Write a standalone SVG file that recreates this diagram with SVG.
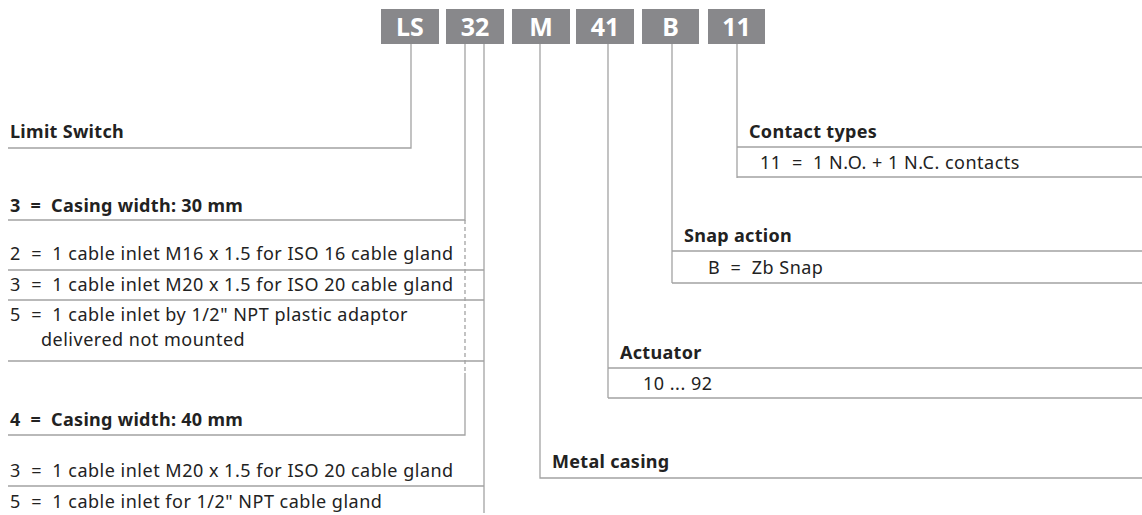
<svg xmlns="http://www.w3.org/2000/svg" width="1142" height="515" viewBox="0 0 1142 515">
<style>
.box{fill:#88888b}
.code{font-family:"Noto Sans","Liberation Sans",sans-serif;font-weight:bold;font-size:25px;fill:#fff;text-anchor:middle}
.t{font-family:"Noto Sans","Liberation Sans",sans-serif;font-size:18px;letter-spacing:0.5px;fill:#222;white-space:pre}
.b{font-weight:bold;letter-spacing:0.3px}
.ln{stroke:#a3a3a3;stroke-width:1.3;fill:none}
.dash{stroke-dasharray:4 3}
</style>
<rect width="1142" height="515" fill="#fff"/>
<g id="header">
<rect class="box" x="381" y="9" width="58" height="35"/><text class="code" x="410" y="36">LS</text>
<rect class="box" x="446" y="9" width="58" height="35"/><text class="code" x="475" y="36">32</text>
<rect class="box" x="512" y="9" width="58" height="35"/><text class="code" x="541" y="36">M</text>
<rect class="box" x="576" y="9" width="58" height="35"/><text class="code" x="605" y="36">41</text>
<rect class="box" x="642" y="9" width="57" height="35"/><text class="code" x="670.5" y="36">B</text>
<rect class="box" x="708" y="9" width="57" height="35"/><text class="code" x="736.5" y="36">11</text>
</g>
<g id="connectors">
<path class="ln" d="M411 44V148H8"/>
<path class="ln" d="M465 44V220H8"/>
<path class="ln dash" d="M465 220V373"/>
<path class="ln" d="M465 373V435H8"/>
<path class="ln" d="M484 44V513"/>
<path class="ln" d="M8 270H484M8 300H484M8 361H484M8 486H484"/>
<path class="ln" d="M737 44V178M737 147H1142M737 177H1142"/>
<path class="ln" d="M672 44V283M672 251H1142M672 283H1142"/>
<path class="ln" d="M608 44V398M608 368H1142M608 398H1142"/>
<path class="ln" d="M540 44V478H1142"/>
</g>
<g id="limit-switch"><text class="t b" x="10" y="138">Limit Switch</text></g>
<g id="casing-30">
<text class="t b" x="10" y="212">3  =  Casing width: 30 mm</text>
<text class="t" x="10" y="260">2  =  1 cable inlet M16 x 1.5 for ISO 16 cable gland</text>
<text class="t" x="10" y="291">3  =  1 cable inlet M20 x 1.5 for ISO 20 cable gland</text>
<text class="t" x="10" y="321">5  =  1 cable inlet by 1/2" NPT plastic adaptor</text>
<text class="t" x="41" y="346">delivered not mounted</text>
</g>
<g id="casing-40">
<text class="t b" x="10" y="426">4  =  Casing width: 40 mm</text>
<text class="t" x="10" y="477">3  =  1 cable inlet M20 x 1.5 for ISO 20 cable gland</text>
<text class="t" x="10" y="508">5  =  1 cable inlet for 1/2" NPT cable gland</text>
</g>
<g id="contact-types">
<text class="t b" x="749" y="138">Contact types</text>
<text class="t" x="760" y="169">11  =  1 N.O. + 1 N.C. contacts</text>
</g>
<g id="snap-action">
<text class="t b" x="684" y="242">Snap action</text>
<text class="t" x="708" y="274">B  =  Zb Snap</text>
</g>
<g id="actuator">
<text class="t b" x="620" y="359">Actuator</text>
<text class="t" x="643" y="390">10 ... 92</text>
</g>
<g id="metal-casing"><text class="t b" x="552" y="468">Metal casing</text></g>
</svg>
